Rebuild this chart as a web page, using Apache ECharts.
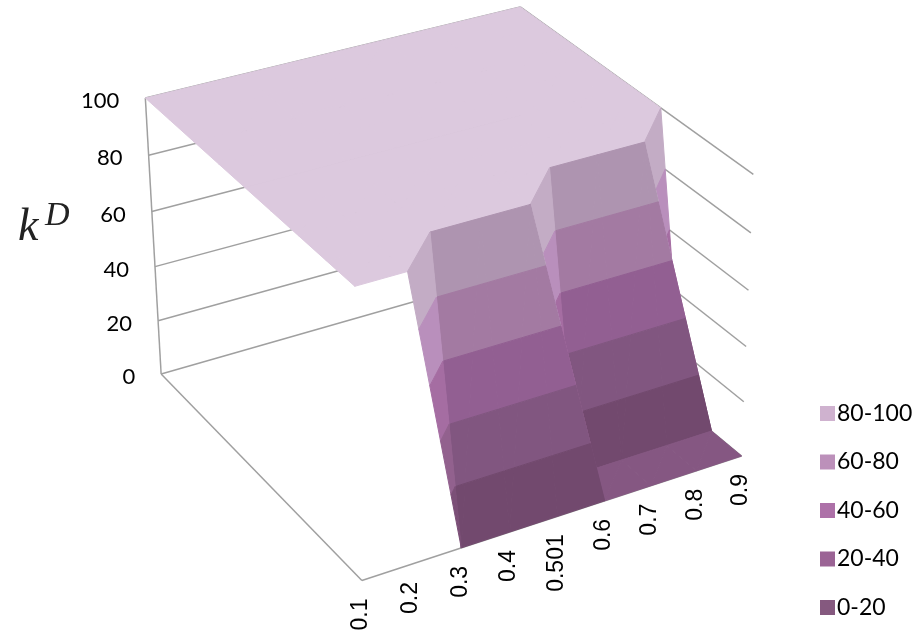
<!DOCTYPE html>
<html>
<head>
<meta charset="utf-8">
<title>k^D surface</title>
<style>html,body{margin:0;padding:0;background:#fff}#chart{width:922px;height:644px}</style>
<script src="https://cdn.jsdelivr.net/npm/echarts@6/dist/echarts.min.js"></script>
</head>
<body>
<div id="chart"></div>
<script>
// Category labels along the front edge and the value ticks of the vertical axis.
var categories = ['0.1', '0.2', '0.3', '0.4', '0.501', '0.6', '0.7', '0.8', '0.9'];
var zTicks = [0, 20, 40, 60, 80, 100];

// Surface heights, one row per depth step, nearest row first.
var row1 = [100, 100, 0, 0, 0, 0, 0, 0, 0];
var row2 = [100, 100, 100, 100, 100, 0, 0, 0, 0];
var row3 = [100, 100, 100, 100, 100, 100, 100, 100, 0];
var row4 = [100, 100, 100, 100, 100, 100, 100, 100, 100];
var row5 = [100, 100, 100, 100, 100, 100, 100, 100, 100];
var row6 = [100, 100, 100, 100, 100, 100, 100, 100, 100];
var row7 = [100, 100, 100, 100, 100, 100, 100, 100, 100];
var row8 = [100, 100, 100, 100, 100, 100, 100, 100, 100];
var row9 = [100, 100, 100, 100, 100, 100, 100, 100, 100];
var rows = [row1, row2, row3, row4, row5, row6, row7, row8, row9];

// Contour bands, listed the way the legend shows them.
var bandNames = ['80-100', '60-80', '40-60', '20-40', '0-20'];
var bandLow = [80, 60, 40, 20, 0];
var legendColors = ['#CFB2CF', '#BC90BA', '#AD71A8', '#9B6495', '#85597F'];
var faceShadow = [[174, 148, 176], [163, 122, 162], [146, 95, 146], [129, 86, 128], [114, 73, 110]];
var faceLit = [[220, 201, 222], [212, 169, 221], [188, 127, 181], [167, 111, 159], [133, 87, 130]];

// Camera calibration: grid position (category index, row index, value) and its place on the page.
var viewAnchors = [
  [0, 8, 100, 146, 98], [8, 8, 100, 518, 6], [8, 0, 100, 754, 174], [0, 0, 100, 353, 287],
  [0, 8, 0, 160, 375], [0, 0, 0, 358, 580], [8, 0, 0, 740, 457],
  [2, 0, 0, 458, 548], [5, 0, 0, 600, 503], [8, 1, 0, 708, 432], [5, 1, 0, 594, 468],
  [1, 0, 100, 410, 270], [2, 1, 100, 430, 233], [4, 1, 100, 530, 205],
  [5, 2, 100, 549, 167], [7, 2, 100, 645, 143], [8, 3, 100, 660, 107],
  [8, 0, 80, 752, 233], [8, 0, 60, 749, 291], [8, 0, 40, 745, 348], [8, 0, 20, 743, 402],
  [0, 8, 80, 150, 155], [0, 8, 60, 152, 212], [0, 8, 40, 155, 267], [0, 8, 20, 158, 321]
];

// Least-squares camera matrix for the anchors, in unit-box coordinates.
function solveCamera(anchors) {
  var n = 11, A = [], i, j, k;
  for (i = 0; i < n; i++) { A.push(new Array(n + 1).fill(0)); }
  function addEquation(r, t) {
    for (var a = 0; a < n; a++) {
      for (var b = 0; b < n; b++) { A[a][b] += r[a] * r[b]; }
      A[a][n] += r[a] * t;
    }
  }
  anchors.forEach(function (c) {
    var X = c[0] / 8, Y = c[1] / 8, Z = c[2] / 100, x = c[3], y = c[4];
    addEquation([X, Y, Z, 1, 0, 0, 0, 0, -x * X, -x * Y, -x * Z], x);
    addEquation([0, 0, 0, 0, X, Y, Z, 1, -y * X, -y * Y, -y * Z], y);
  });
  for (i = 0; i < n; i++) {
    var pivot = i;
    for (j = i + 1; j < n; j++) { if (Math.abs(A[j][i]) > Math.abs(A[pivot][i])) { pivot = j; } }
    var tmp = A[i]; A[i] = A[pivot]; A[pivot] = tmp;
    for (j = 0; j < n; j++) {
      if (j !== i) {
        var f = A[j][i] / A[i][i];
        for (k = i; k <= n; k++) { A[j][k] -= f * A[i][k]; }
      }
    }
  }
  return A.map(function (r, idx) { return r[n] / r[idx]; });
}
var cam = solveCamera(viewAnchors);

// Axis-space position of a grid vertex: [category index, row index, value].
function project(p) {
  var X = p[0] / (categories.length - 1), Y = p[1] / (rows.length - 1), Z = p[2] / 100;
  var w = cam[8] * X + cam[9] * Y + cam[10] * Z + 1;
  return [
    (cam[0] * X + cam[1] * Y + cam[2] * Z + cam[3]) / w,
    (cam[4] * X + cam[5] * Y + cam[6] * Z + cam[7]) / w
  ];
}

// Clip a polygon to lo <= value <= hi.
function clipEdge(poly, keep, limit) {
  var out = [];
  for (var i = 0; i < poly.length; i++) {
    var a = poly[i], b = poly[(i + 1) % poly.length];
    var ka = keep(a[2]), kb = keep(b[2]);
    if (ka) { out.push(a); }
    if (ka !== kb) {
      var t = (limit - a[2]) / (b[2] - a[2]);
      out.push([a[0] + (b[0] - a[0]) * t, a[1] + (b[1] - a[1]) * t, limit]);
    }
  }
  return out;
}
function clipBand(poly, lo, hi) {
  var r = clipEdge(poly, function (z) { return z >= lo; }, lo);
  return r.length ? clipEdge(r, function (z) { return z <= hi; }, hi) : r;
}

// How much a facet catches the light, 0 for the steep front faces, 1 for level ones.
function facetLight(a, b, c) {
  var step = 1 / 8, h = 0.7 / 100;
  var ux = (b[0] - a[0]) * step, uy = (b[1] - a[1]) * step, uz = (b[2] - a[2]) * h;
  var vx = (c[0] - a[0]) * step, vy = (c[1] - a[1]) * step, vz = (c[2] - a[2]) * h;
  var nx = uy * vz - uz * vy, ny = uz * vx - ux * vz, nz = ux * vy - uy * vx;
  var len = Math.sqrt(nx * nx + ny * ny + nz * nz) || 1;
  var s = nz < 0 ? -1 : 1;
  nx *= s / len; ny *= s / len; nz *= s / len;
  var lit = 0.9 + 0.111 * nx + 0.069 * ny + 0.16 * nz;
  return Math.max(0, Math.min(1, (lit - 0.86) / 0.2));
}

// Split each grid cell in two along the diagonal with the higher ends.
var facets = [];
rows.forEach(function (row, j) {
  if (j === rows.length - 1) { return; }
  row.forEach(function (z, i) {
    if (i === row.length - 1) { return; }
    var p00 = [i, j, rows[j][i]], p10 = [i + 1, j, rows[j][i + 1]];
    var p01 = [i, j + 1, rows[j + 1][i]], p11 = [i + 1, j + 1, rows[j + 1][i + 1]];
    if (p00[2] + p11[2] >= p10[2] + p01[2]) {
      facets.push([p00, p10, p11], [p00, p11, p01]);
    } else {
      facets.push([p00, p10, p01], [p10, p11, p01]);
    }
  });
});

// Paint the facets farthest from the viewer first.
function viewDistance(f) {
  var cx = (f[0][0] + f[1][0] + f[2][0]) / 3, cy = (f[0][1] + f[1][1] + f[2][1]) / 3;
  return (cx - 2) * (cx - 2) + (cy + 20) * (cy + 20);
}
facets.sort(function (a, b) { return viewDistance(b) - viewDistance(a); });

var bandPieces = bandNames.map(function (name, b) {
  var pieces = [];
  facets.forEach(function (f, order) {
    var poly = clipBand(f, bandLow[b], bandLow[b] + 20);
    if (poly.length < 3) { return; }
    var t = facetLight(f[0], f[1], f[2]);
    var color = faceShadow[b].map(function (v, c) {
      return Math.round(v + (faceLit[b][c] - v) * t);
    });
    pieces.push({ poly: poly, order: order, fill: 'rgb(' + color.join(',') + ')' });
  });
  return pieces;
});

var lastCat = categories.length - 1, lastRow = rows.length - 1;

// Frame of the box, and the value gridlines on its two rear walls.
var frameLines = [
  [[0, lastRow, 0], [0, lastRow, 100]],
  [[0, lastRow, 0], [0, 0, 0]],
  [[0, 0, 0], [lastCat, 0, 0]]
];
zTicks.forEach(function (t) {
  frameLines.push([[0, lastRow, t], [lastCat, lastRow, t]]);
  frameLines.push([[lastCat, lastRow, t], [lastCat, 0, t]]);
});

function pointsOf(api, poly) {
  return poly.map(function (p) { return api.coord(project(p)); });
}

var series = bandNames.map(function (name, b) {
  return {
    type: 'custom',
    name: name,
    coordinateSystem: 'cartesian2d',
    clip: false,
    silent: true,
    itemStyle: { color: legendColors[b] },
    data: bandPieces[b].map(function (p, idx) { return [idx]; }),
    renderItem: function (params, api) {
      var piece = bandPieces[b][params.dataIndex];
      return {
        type: 'polygon',
        z2: 10 + piece.order,
        shape: { points: pointsOf(api, piece.poly) },
        style: { fill: piece.fill, stroke: piece.fill, lineWidth: 1 }
      };
    }
  };
});

series.push({
  type: 'custom',
  name: 'frame',
  coordinateSystem: 'cartesian2d',
  clip: false,
  silent: true,
  data: frameLines.map(function (l, idx) { return [idx]; }),
  renderItem: function (params, api) {
    var l = frameLines[params.dataIndex], a = api.coord(project(l[0])), b = api.coord(project(l[1]));
    return {
      type: 'line',
      z2: 1,
      shape: { x1: a[0], y1: a[1], x2: b[0], y2: b[1] },
      style: { stroke: '#A0A0A0', lineWidth: 1.5 }
    };
  }
});

series.push({
  type: 'custom',
  name: 'value labels',
  coordinateSystem: 'cartesian2d',
  clip: false,
  silent: true,
  data: zTicks.map(function (t, idx) { return [idx]; }),
  renderItem: function (params, api) {
    var t = zTicks[params.dataIndex], a = api.coord(project([0, lastRow, t]));
    return {
      type: 'text',
      z2: 1000,
      style: {
        x: a[0] - 26, y: a[1] + 3, text: String(t), textAlign: 'right', textVerticalAlign: 'middle',
        font: '22px Lato', fill: '#000'
      }
    };
  }
});

series.push({
  type: 'custom',
  name: 'category labels',
  coordinateSystem: 'cartesian2d',
  clip: false,
  silent: true,
  data: categories.map(function (c, idx) { return [idx]; }),
  renderItem: function (params, api) {
    var i = params.dataIndex, a = api.coord(project([i, 0, 0]));
    return {
      type: 'text',
      z2: 1000,
      x: a[0] - 1,
      y: a[1] + 18,
      rotation: Math.PI / 2,
      style: {
        x: 0, y: 0, text: categories[i], textAlign: 'right', textVerticalAlign: 'middle',
        font: '23px "Liberation Sans"', fill: '#000'
      }
    };
  }
});

var chart = echarts.init(document.getElementById('chart'), null, { renderer: 'canvas' });
chart.setOption({
  animation: false,
  backgroundColor: '#fff',
  grid: { left: 0, right: 0, top: 0, bottom: 0 },
  xAxis: { type: 'value', min: 0, max: 922, show: false },
  yAxis: { type: 'value', min: 0, max: 644, inverse: true, show: false },
  legend: {
    data: bandNames,
    orient: 'vertical',
    left: 815,
    top: 397,
    icon: 'rect',
    itemWidth: 15,
    itemHeight: 15,
    itemGap: 25.5,
    selectedMode: false,
    textStyle: { fontFamily: 'Lato', fontSize: 23, lineHeight: 21, color: '#000', padding: [0, 0, 0, -3] }
  },
  graphic: [
    { type: 'text', left: 18, top: 205, style: { text: 'k', font: 'italic 46px "Liberation Serif"', fill: '#222' } },
    { type: 'text', left: 45, top: 199, style: { text: 'D', font: 'italic 34px "Liberation Serif"', fill: '#222' } }
  ],
  series: series
});
</script>
</body>
</html>
